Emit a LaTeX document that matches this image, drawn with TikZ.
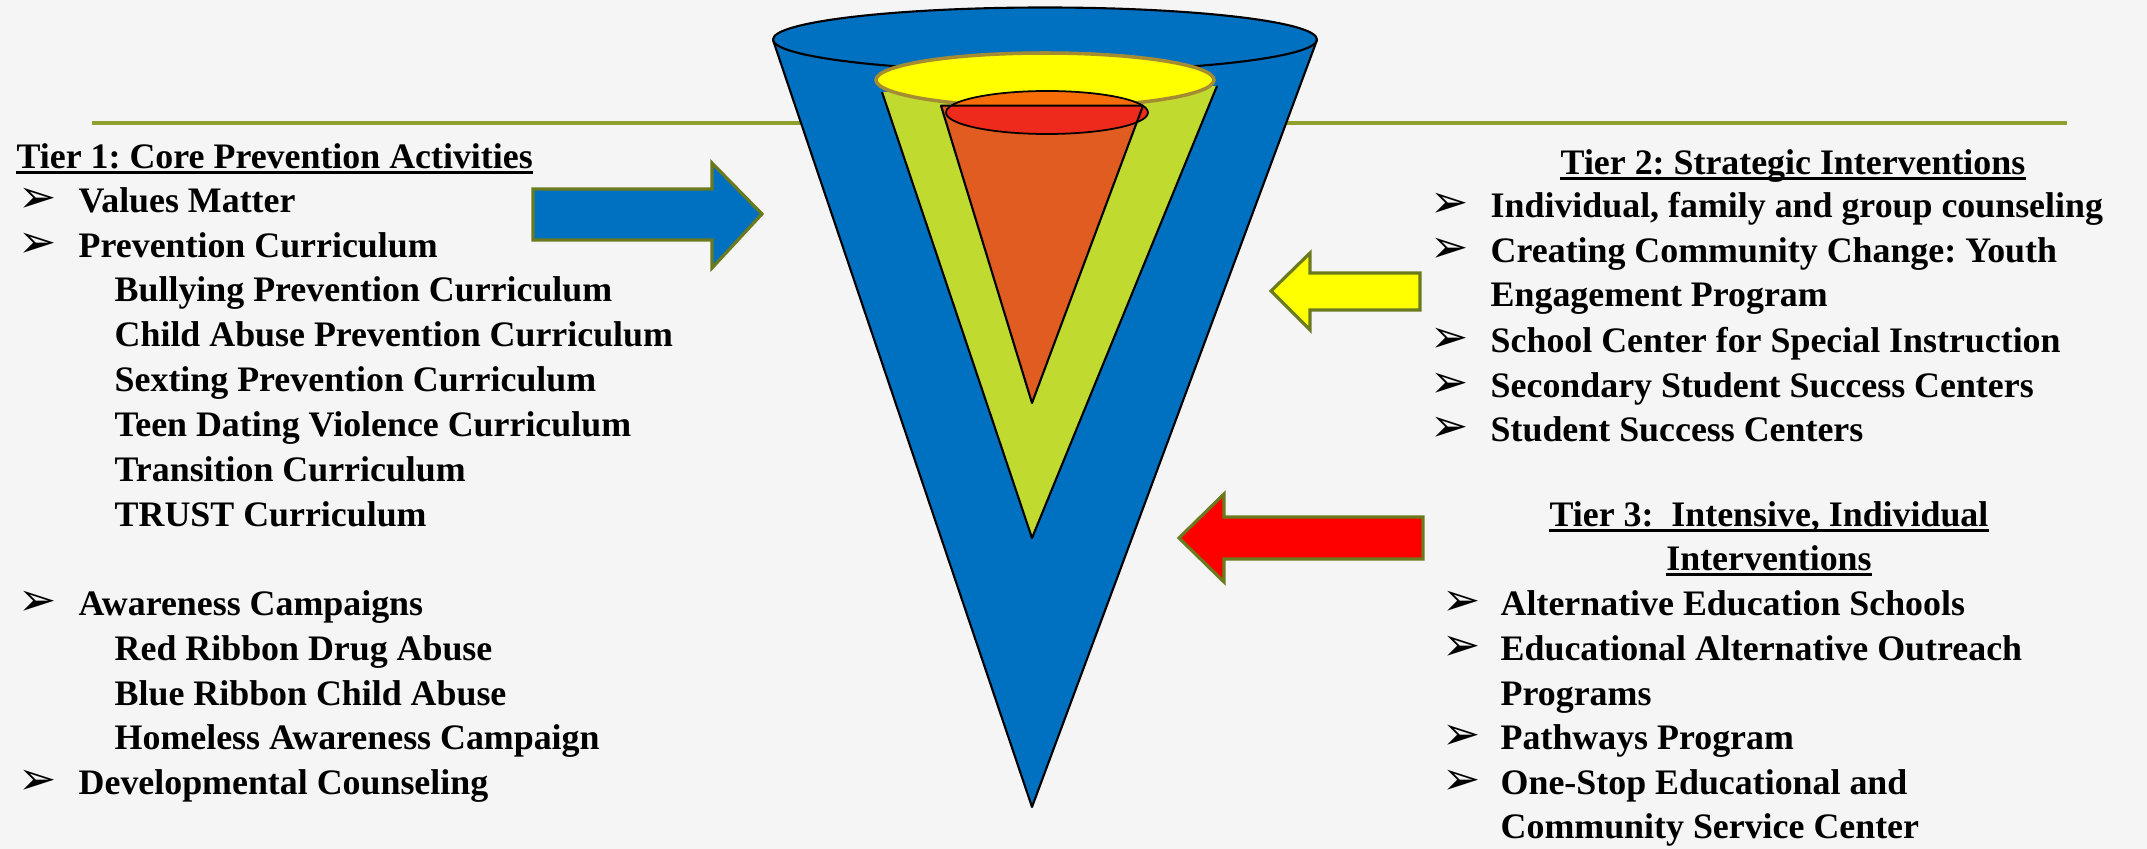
\documentclass[tikz,border=0pt]{standalone}
\usepackage{fontspec}
\setmainfont{Liberation Serif}
\newfontfamily\dejavu{DejaVu Sans}
\frenchspacing
\definecolor{bgc}{RGB}{245,245,245}
\definecolor{rule}{RGB}{143,160,45}
\definecolor{coneblue}{RGB}{0,112,192}
\definecolor{conegreen}{RGB}{192,218,48}
\definecolor{coneorange}{RGB}{224,92,32}
\definecolor{topyellow}{RGB}{255,255,0}
\definecolor{yellowedge}{RGB}{165,140,50}
\definecolor{toporange}{RGB}{248,108,8}
\definecolor{topred}{RGB}{238,42,28}
\definecolor{arrowedge}{RGB}{107,122,30}
\definecolor{arrowred}{RGB}{255,0,0}
\begin{document}
\begin{tikzpicture}[x=0.01cm,y=-0.01cm,
  txt/.style={anchor=base west, inner sep=0pt, font=\fontsize{10.2}{12}\selectfont\bfseries},
  head/.style={anchor=base, inner sep=0pt, font=\fontsize{10.2}{12}\selectfont\bfseries},
  bul/.style={anchor=base west, inner sep=0pt, font=\dejavu\bfseries\fontsize{13}{13}\selectfont},
  uline/.style={black, line width=0.7pt},
  outl/.style={draw=black, line width=0.6pt, line join=round},
  blockarrow/.style={draw=arrowedge, line width=0.9pt, line join=miter}]
\useasboundingbox (0,0) rectangle (2147,849);
\fill[bgc] (0,0) rectangle (2147,849);
% olive rule
\draw[rule, line width=0.95pt] (92,123) -- (2067,123);
% blue cone
\fill[coneblue] (773,40) -- (1032,807) -- (1317,40) -- cycle;
\draw[outl] (773,40) -- (1032,807) -- (1317,40);
\filldraw[fill=coneblue, outl] (1045,39.5) ellipse [x radius=272, y radius=32];
% green cone
\fill[conegreen] (882,92) -- (1032,538) -- (1217,86) -- cycle;
\draw[outl] (882,92) -- (1032,538) -- (1217,86);
\filldraw[fill=topyellow, draw=yellowedge, line width=1pt] (1045,80) ellipse [x radius=169, y radius=27];
% orange cone
\fill[coneorange] (941,105.7) -- (1032,403) -- (1143,105.7) -- cycle;
\fill[toporange] (1047,112.5) ellipse [x radius=101, y radius=21.5];
\begin{scope}
  \clip (900,105.7) rectangle (1200,140);
  \fill[topred] (1047,112.5) ellipse [x radius=101, y radius=21.5];
\end{scope}
\draw[black, line width=0.5pt] (1047,112.5) ellipse [x radius=101, y radius=21.5];
\draw[outl] (941,105.7) -- (1032,403) -- (1143,105.7) -- cycle;
% block arrows
\filldraw[fill=coneblue, blockarrow] (533,189) -- (712,189) -- (712,163) -- (762,214) -- (712,268) -- (712,240) -- (533,240) -- cycle;
\filldraw[fill=topyellow, blockarrow] (1420,273) -- (1310,273) -- (1310,253) -- (1271,291) -- (1310,330) -- (1310,310) -- (1420,310) -- cycle;
\filldraw[fill=arrowred, blockarrow] (1423,517) -- (1224,517) -- (1224,494) -- (1179,538) -- (1224,582) -- (1224,559) -- (1423,559) -- cycle;
% Tier 1
\node[txt] (t1) at (16,169) {Tier 1: Core Prevention Activities};
\draw[uline] ([yshift=-1pt]t1.base west) -- ([yshift=-1pt]t1.base east);
\node[bul] (b1a) at (18,213) {➢};
\node[txt] (l1a) at (78,213) {Values Matter};
\node[bul] (b1b) at (18,258) {➢};
\node[txt] (l1b) at (78,258) {Prevention Curriculum};
\node[txt] (l1c) at (114,302) {Bullying Prevention Curriculum};
\node[txt] (l1d) at (114,347) {Child Abuse Prevention Curriculum};
\node[txt] (l1e) at (114,392) {Sexting Prevention Curriculum};
\node[txt] (l1f) at (114,437) {Teen Dating Violence Curriculum};
\node[txt] (l1g) at (114,482) {Transition Curriculum};
\node[txt] (l1h) at (114,527) {TRUST Curriculum};
\node[bul] (b1i) at (18,616) {➢};
\node[txt] (l1i) at (78,616) {Awareness Campaigns};
\node[txt] (l1j) at (114,661) {Red Ribbon Drug Abuse};
\node[txt] (l1k) at (114,706) {Blue Ribbon Child Abuse};
\node[txt] (l1l) at (114,750) {Homeless Awareness Campaign};
\node[bul] (b1m) at (18,795) {➢};
\node[txt] (l1m) at (78,795) {Developmental Counseling};
% Tier 2
\node[head] (t2) at (1793,175) {Tier 2: Strategic Interventions};
\draw[uline] ([yshift=-1pt]t2.base west) -- ([yshift=-1pt]t2.base east);
\node[bul] (b2a) at (1430,218) {➢};
\node[txt] (l2a) at (1490,218) {Individual, family and group counseling};
\node[bul] (b2b) at (1430,263) {➢};
\node[txt] (l2b) at (1490,263) {Creating Community Change: Youth};
\node[txt] (l2c) at (1490,307) {Engagement Program};
\node[bul] (b2d) at (1430,353) {➢};
\node[txt] (l2d) at (1490,353) {School Center for Special Instruction};
\node[bul] (b2e) at (1430,398) {➢};
\node[txt] (l2e) at (1490,398) {Secondary Student Success Centers};
\node[bul] (b2f) at (1430,442) {➢};
\node[txt] (l2f) at (1490,442) {Student Success Centers};
% Tier 3
\node[head] (t3a) at (1769,527) {Tier 3:\ \ Intensive, Individual};
\draw[uline] ([yshift=-1pt]t3a.base west) -- ([yshift=-1pt]t3a.base east);
\node[head] (t3b) at (1769,571) {Interventions};
\draw[uline] ([yshift=-1pt]t3b.base west) -- ([yshift=-1pt]t3b.base east);
\node[bul] (b3a) at (1442,616) {➢};
\node[txt] (l3a) at (1500,616) {Alternative Education Schools};
\node[bul] (b3b) at (1442,661) {➢};
\node[txt] (l3b) at (1500,661) {Educational Alternative Outreach};
\node[txt] (l3c) at (1500,706) {Programs};
\node[bul] (b3d) at (1442,750) {➢};
\node[txt] (l3d) at (1500,750) {Pathways Program};
\node[bul] (b3e) at (1442,795) {➢};
\node[txt] (l3e) at (1500,795) {One-Stop Educational and};
\node[txt] (l3f) at (1500,839) {Community Service Center};
\end{tikzpicture}
\end{document}
